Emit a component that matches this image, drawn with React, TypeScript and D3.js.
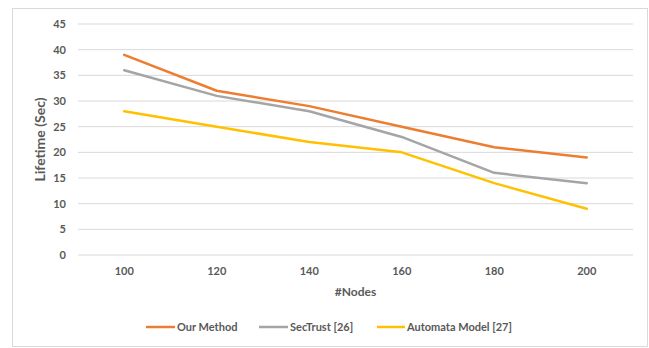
import React from "react";
import * as d3 from "d3";

const categories = ["100", "120", "140", "160", "180", "200"];
const ourMethod = [39, 32, 29, 25, 21, 19];
const secTrust = [36, 31, 28, 23, 16, 14];
const automata = [28, 25, 22, 20, 14, 9];
const yTicks = [0, 5, 10, 15, 20, 25, 30, 35, 40, 45];
const seriesNames = ["Our Method", "SecTrust [26]", "Automata Model [27]"];
const seriesColors = ["#ED7D31", "#A5A5A5", "#FFC000"];

const W = 649;
const H = 348;
const plot = { left: 78, right: 633, top: 24, bottom: 255 };
const FONT = "Lato, 'Open Sans', sans-serif";
const TEXT = "#595959";

export default function App() {
  const x = d3.scaleBand<string>().domain(categories).range([plot.left, plot.right]);
  const y = d3.scaleLinear().domain([0, 45]).range([plot.bottom, plot.top]);
  const cx = (c: string) => (x(c) ?? 0) + x.bandwidth() / 2;
  const line = d3
    .line<number>()
    .x((_, i) => cx(categories[i]))
    .y((d) => y(d));
  const series = [ourMethod, secTrust, automata];

  const legendItems = [
    { x: 146, w: 29 },
    { x: 259, w: 29 },
    { x: 377, w: 28 },
  ];
  const legendY = 327;

  return (
    <svg
      width={W}
      height={H}
      style={{ position: "absolute", left: 0, top: 0, background: "#fff" }}
    >
      <rect x={12.5} y={8.5} width={635} height={338} fill="#fff" stroke="#D9D9D9" strokeWidth={1} />
      {yTicks.map((t) => (
        <g key={t}>
          <line
            x1={plot.left}
            x2={plot.right}
            y1={y(t)}
            y2={y(t)}
            stroke="#D9D9D9"
            strokeWidth={1}
          />
          <text
            x={66}
            y={y(t)}
            dy="0.35em"
            textAnchor="end"
            fontFamily={FONT}
            fontWeight="bold"
            fontSize={11}
            fill={TEXT}
          >
            {t}
          </text>
        </g>
      ))}
      {categories.map((c) => (
        <text
          key={c}
          x={cx(c)}
          y={271}
          dy="0.35em"
          textAnchor="middle"
          fontFamily={FONT}
          fontWeight="bold"
          fontSize={11}
          fill={TEXT}
        >
          {c}
        </text>
      ))}
      <text
        x={(plot.left + plot.right) / 2}
        y={292}
        dy="0.35em"
        textAnchor="middle"
        fontFamily={FONT}
        fontWeight="bold"
        fontSize={12}
        fill={TEXT}
      >
        #Nodes
      </text>
      <text
        transform={`translate(40,${(plot.top + plot.bottom) / 2}) rotate(-90)`}
        dy="0.35em"
        textAnchor="middle"
        fontFamily={FONT}
        fontWeight="bold"
        fontSize={14}
        fill={TEXT}
      >
        Lifetime (Sec)
      </text>
      {series.map((s, i) => (
        <path
          key={i}
          d={line(s) ?? ""}
          fill="none"
          stroke={seriesColors[i]}
          strokeWidth={2.5}
          strokeLinejoin="round"
          strokeLinecap="round"
        />
      ))}
      {legendItems.map((l, i) => (
        <g key={i}>
          <line
            x1={l.x}
            x2={l.x + l.w}
            y1={legendY}
            y2={legendY}
            stroke={seriesColors[i]}
            strokeWidth={2.5}
          />
          <text
            x={l.x + l.w + 2}
            y={legendY}
            dy="0.35em"
            fontFamily={FONT}
            fontWeight="bold"
            fontSize={11}
            fill={TEXT}
          >
            {seriesNames[i]}
          </text>
        </g>
      ))}
    </svg>
  );
}
